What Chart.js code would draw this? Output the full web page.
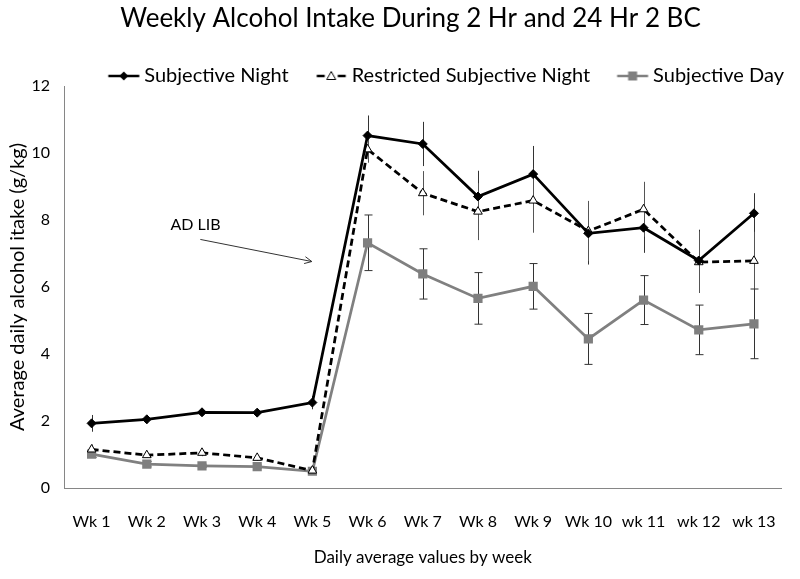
<!DOCTYPE html>
<html>
<head>
<meta charset="utf-8">
<script src="https://cdn.jsdelivr.net/npm/chart.js@4.4.1/dist/chart.umd.min.js"></script>
<style>
  html, body { margin: 0; padding: 0; background: #fff; }
  canvas { display: block; }
</style>
</head>
<body>
<canvas id="c" width="800" height="579"></canvas>
<script>
// ---- data ----
const categories = ['Wk 1','Wk 2','Wk 3','Wk 4','Wk 5','Wk 6','Wk 7','Wk 8','Wk 9','Wk 10','wk 11','wk 12','wk 13'];
const nightValues      = [1.93, 2.05, 2.26, 2.25, 2.55, 10.52, 10.27, 8.70, 9.37, 7.60, 7.77, 6.79, 8.20];
const restrictedValues = [1.15, 0.98, 1.05, 0.90, 0.52, 10.11, 8.80, 8.25, 8.58, 7.67, 8.32, 6.74, 6.78];
const dayValues        = [1.01, 0.71, 0.66, 0.64, 0.50, 7.32, 6.39, 5.66, 6.02, 4.45, 5.61, 4.72, 4.90];
const nightErrors      = [0.25, 0.12, 0.10, 0.10, 0.20, 0.60, 0.66, 0.77, 0.84, 0.93, 0.75, 0.92, 0.60];
const restrictedErrors = [0.15, 0.08, 0.10, 0.08, 0.05, 0.40, 0.66, 0.85, 0.96, 0.90, 0.82, 0.92, 0.87];
const dayErrors        = [0.10, 0.08, 0.05, 0.05, 0.05, 0.83, 0.75, 0.77, 0.68, 0.76, 0.73, 0.74, 1.04];
const yTicks = [0, 2, 4, 6, 8, 10, 12];
const seriesNames = ['Subjective Night', 'Restricted Subjective Night', 'Subjective Day'];
const titleText = 'Weekly Alcohol Intake During 2 Hr and 24 Hr 2 BC';
const xTitle = 'Daily average values by week';
const yTitle = 'Average daily alcohol itake (g/kg)';
const noteText = 'AD LIB';

// annotation placement (in data units: category index, value)
const notePos = [1.43, 7.85];
const arrowFrom = [1.97, 7.42];
const arrowTo = [3.99, 6.76];

const FONT = 'Lato';
const GRAY = '#808080';
const errorSets = [nightErrors, restrictedErrors, dayErrors];
const errorStyle = [
  {color: '#333', cap: 0},
  {color: '#555', cap: 0},
  {color: '#333', cap: 4}
];

// legend icons (canvas wider than the reserved box so the marker sits close to the text)
const ICON_BOX = 47;
function makeIcon(kind) {
  const c = document.createElement('canvas');
  c.width = 60; c.height = 16;
  const g = c.getContext('2d');
  const cy = 8, x0 = 27.5, x1 = 58.5, mx = 43;
  g.lineWidth = 2.5;
  if (kind === 0) {
    g.strokeStyle = '#000';
    g.beginPath(); g.moveTo(x0, cy); g.lineTo(x1, cy); g.stroke();
    g.fillStyle = '#000';
    g.beginPath(); g.moveTo(mx, cy - 4.5); g.lineTo(mx + 4.5, cy); g.lineTo(mx, cy + 4.5); g.lineTo(mx - 4.5, cy); g.closePath(); g.fill();
  } else if (kind === 1) {
    g.strokeStyle = '#000';
    g.beginPath(); g.moveTo(x0 + 1, cy); g.lineTo(x0 + 9, cy); g.moveTo(x1 - 9, cy); g.lineTo(x1 - 1, cy); g.stroke();
    g.lineWidth = 1;
    g.fillStyle = '#fff';
    g.beginPath(); g.moveTo(mx, cy - 4.5); g.lineTo(mx + 4.5, cy + 3.5); g.lineTo(mx - 4.5, cy + 3.5); g.closePath(); g.fill(); g.stroke();
  } else {
    g.strokeStyle = GRAY;
    g.beginPath(); g.moveTo(x0, cy); g.lineTo(x1, cy); g.stroke();
    g.fillStyle = GRAY;
    g.fillRect(mx - 4.5, cy - 4.5, 9, 9);
  }
  return c;
}
const legendIcons = [makeIcon(0), makeIcon(1), makeIcon(2)];

const errorBarPlugin = {
  id: 'errorBars',
  beforeDatasetsDraw(chart) {
    const ctx = chart.ctx;
    const xs = chart.scales.x, ys = chart.scales.y;
    ctx.save();
    chart.data.datasets.forEach((ds, di) => {
      const errs = errorSets[di];
      const st = errorStyle[di];
      ctx.strokeStyle = st.color;
      ctx.lineWidth = 1;
      ds.data.forEach((v, i) => {
        const x = Math.round(xs.getPixelForValue(i)) + 0.5;
        const yTop = ys.getPixelForValue(v + errs[i]);
        const yBot = ys.getPixelForValue(v - errs[i]);
        ctx.beginPath();
        ctx.moveTo(x, yTop); ctx.lineTo(x, yBot);
        if (st.cap) {
          ctx.moveTo(x - st.cap, yTop); ctx.lineTo(x + st.cap, yTop);
          ctx.moveTo(x - st.cap, yBot); ctx.lineTo(x + st.cap, yBot);
        }
        ctx.stroke();
      });
    });
    ctx.restore();
  }
};

const notePlugin = {
  id: 'note',
  afterDatasetsDraw(chart) {
    const ctx = chart.ctx;
    const xs = chart.scales.x, ys = chart.scales.y;
    ctx.save();
    ctx.fillStyle = '#000';
    ctx.font = '16px ' + FONT;
    ctx.textAlign = 'left';
    ctx.textBaseline = 'middle';
    ctx.fillText(noteText, xs.getPixelForValue(notePos[0]), ys.getPixelForValue(notePos[1]));
    const x1 = xs.getPixelForValue(arrowFrom[0]), y1 = ys.getPixelForValue(arrowFrom[1]);
    const x2 = xs.getPixelForValue(arrowTo[0]), y2 = ys.getPixelForValue(arrowTo[1]);
    ctx.strokeStyle = '#333';
    ctx.lineWidth = 1;
    ctx.beginPath(); ctx.moveTo(x1, y1); ctx.lineTo(x2, y2); ctx.stroke();
    const a = Math.atan2(y2 - y1, x2 - x1);
    const L = 8, w = 0.45;
    ctx.beginPath();
    ctx.moveTo(x2 - L * Math.cos(a - w), y2 - L * Math.sin(a - w));
    ctx.lineTo(x2, y2);
    ctx.lineTo(x2 - L * Math.cos(a + w), y2 - L * Math.sin(a + w));
    ctx.stroke();
    ctx.restore();
  }
};

// Let the legend overlap the top of the plot a little (as in the reference) without clipping its text
const legendTrim = {
  id: 'legendTrim',
  afterInit(chart) {
    const lg = chart.legend;
    if (lg && !lg._trimmed) {
      const orig = lg.fit.bind(lg);
      lg.fit = function () { orig(); this.height -= 10; };
      lg._trimmed = true;
    }
  },
  afterLayout(chart) {
    const lg = chart.legend;
    if (lg) { lg.bottom += 20; lg.height += 20; }
  }
};

Chart.defaults.font.family = FONT;
Chart.defaults.color = '#000';

new Chart(document.getElementById('c'), {
  type: 'line',
  data: {
    labels: categories,
    datasets: [
      {
        label: seriesNames[0], data: nightValues,
        borderColor: '#000', backgroundColor: '#000', borderWidth: 2.75,
        pointStyle: 'rectRot', pointRadius: 4.5, pointBackgroundColor: '#000', pointBorderColor: '#000', pointBorderWidth: 1,
        tension: 0, fill: false
      },
      {
        label: seriesNames[1], data: restrictedValues,
        borderColor: '#000', backgroundColor: '#fff', borderWidth: 2.75, borderDash: [7, 4],
        pointStyle: 'triangle', pointRadius: 5, pointBackgroundColor: '#fff', pointBorderColor: '#000', pointBorderWidth: 1,
        tension: 0, fill: false
      },
      {
        label: seriesNames[2], data: dayValues,
        borderColor: GRAY, backgroundColor: GRAY, borderWidth: 2.75,
        pointStyle: 'rect', pointRadius: 6.5, pointBackgroundColor: '#7f7f7f', pointBorderColor: '#7f7f7f', pointBorderWidth: 0,
        tension: 0, fill: false
      }
    ]
  },
  options: {
    responsive: false,
    animation: false,
    events: [],
    layout: { padding: { left: 31, right: 10, top: 0, bottom: 11 } },
    plugins: {
      title: {
        display: true, text: titleText,
        font: { size: 26, weight: 'normal' }, color: '#000',
        padding: { top: 3, bottom: 25.8 }
      },
      legend: {
        display: true, position: 'top', align: 'end',
        labels: {
          usePointStyle: true, pointStyleWidth: ICON_BOX, boxHeight: 16,
          padding: 6, color: '#000',
          font: { size: 20 },
          generateLabels(chart) {
            const items = Chart.defaults.plugins.legend.labels.generateLabels(chart);
            items.forEach((it, i) => { it.pointStyle = legendIcons[i]; it.lineWidth = 0; });
            return items;
          }
        }
      },
      tooltip: { enabled: false }
    },
    scales: {
      x: {
        type: 'category',
        offset: true,
        grid: { display: false, drawTicks: false },
        border: { display: true, color: '#868686', width: 1 },
        ticks: { font: { size: 16 }, color: '#000', padding: 24, maxRotation: 0, autoSkip: false },
        title: { display: true, text: xTitle, font: { size: 17 }, color: '#000', padding: { top: 0, bottom: 0 } },
        afterFit(scale) { scale.height = 80; }
      },
      y: {
        min: 0, max: 12,
        afterBuildTicks(scale) { scale.ticks = yTicks.map(v => ({ value: v })); },
        grid: { display: false, drawTicks: false },
        border: { display: true, color: '#868686', width: 1 },
        ticks: { font: { size: 16 }, color: '#000', padding: 14 },
        title: { display: true, text: yTitle, font: { size: 20 }, color: '#000', padding: { top: -25, bottom: 0 } },
        afterFit(scale) { scale.width = 33; }
      }
    }
  },
  plugins: [legendTrim, errorBarPlugin, notePlugin]
});
</script>
</body>
</html>
